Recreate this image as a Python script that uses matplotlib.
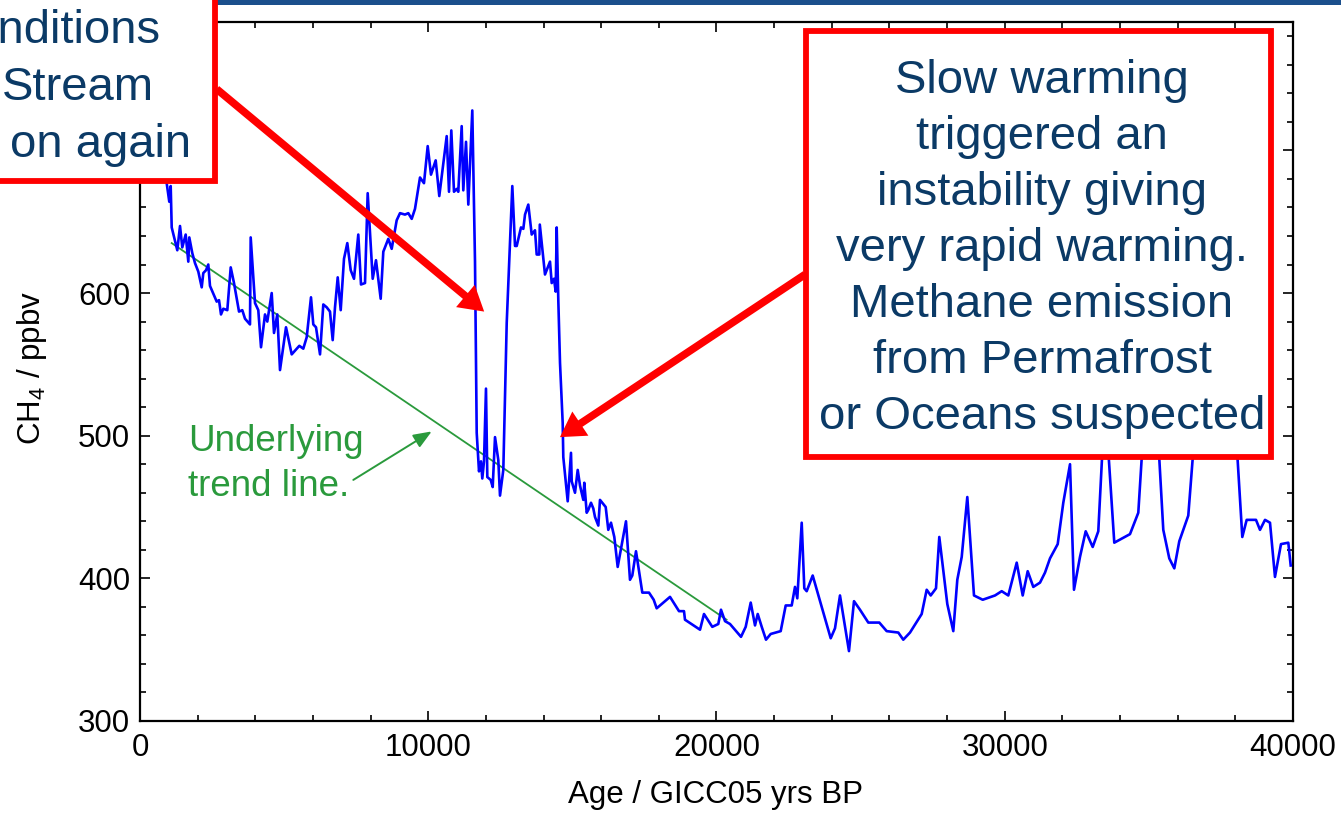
import matplotlib
matplotlib.use("Agg")
import matplotlib.pyplot as plt
from matplotlib.patches import Rectangle
from matplotlib.ticker import MultipleLocator

# ---------------------------
# Data
# ---------------------------
# GICC05 age (yr BP) and CH4 (ppbv)
age = [798, 926, 1016, 1065, 1100, 1294, 1388, 1467, 1585, 1676, 1710, 1814, 1908,
       2023, 2141, 2196, 2290, 2369, 2428, 2661, 2741, 2810, 2890, 3029, 3147, 3261,
       3435, 3549, 3643, 3816, 3840, 3990, 4104, 4198, 4337, 4416, 4569, 4649, 4763,
       4857, 5065, 5263, 5527, 5665, 5783, 5932, 6012, 6106, 6245, 6359, 6477, 6591,
       6685, 6765, 6859, 6963, 7077, 7192, 7310, 7424, 7573, 7667, 7806, 7899, 8073,
       8187, 8350, 8441, 8614, 8732, 8905, 9020, 9193, 9308, 9426, 9540, 9714, 9852,
       9981, 10095, 10258, 10383, 10640, 10720, 10800, 10893, 10987, 11042, 11160,
       11216, 11310, 11390, 11528, 11622, 11681, 11761, 11830, 11875, 11934, 12003,
       12049, 12167, 12236, 12316, 12430, 12489, 12604, 12722, 12916, 13010, 13069,
       13218, 13298, 13357, 13471, 13589, 13703, 13762, 13853, 13870, 14050, 14224,
       14283, 14362, 14421, 14456, 14512, 14571, 14664, 14685, 14838, 14952, 14977,
       15091, 15185, 15265, 15379, 15414, 15497, 15553, 15646, 15726, 15785, 15900,
       15958, 16156, 16246, 16340, 16455, 16572, 16860, 16999, 17079, 17207, 17426,
       17658, 17821, 17925, 18387, 18699, 18872, 18907, 19428, 19566, 19854, 20062,
       20156, 20295, 20468, 20850, 21013, 21187, 21336, 21430, 21569, 21717, 21880,
       22227, 22401, 22609, 22723, 22803, 22956, 23046, 23129, 23337, 23962, 24111,
       24284, 24596, 24770, 24978, 25266, 25648, 25904, 26307, 26480, 26713, 27118,
       27292, 27431, 27615, 27729, 28007, 28215, 28354, 28507, 28701, 28933, 29235,
       29662, 29894, 30123, 30415, 30623, 30796, 30990, 31223, 31396, 31570, 31837,
       32031, 32264, 32402, 32610, 32808, 33051, 33245, 33477, 33800, 34345, 34633,
       35072, 35500, 35708, 35882, 36055, 36367, 36704, 37120, 37537, 37953, 38241,
       38393, 38716, 38855, 39029, 39202, 39375, 39583, 39837, 39920]
ch4 = [700, 677, 664, 675, 646, 630, 647, 632, 641, 622, 639, 628, 621,
       615, 604, 614, 616, 620, 605, 594, 595, 585, 589, 588, 618, 607,
       587, 588, 582, 578, 639, 593, 588, 562, 585, 580, 600, 572, 585,
       546, 576, 557, 563, 561, 569, 597, 578, 576, 557, 592, 590, 587,
       567, 590, 611, 588, 624, 635, 616, 610, 641, 606, 607, 670, 610,
       623, 596, 629, 638, 631, 651, 656, 655, 656, 652, 659, 681, 677,
       703, 683, 693, 668, 710, 671, 714, 671, 673, 671, 717,
       672, 706, 662, 728, 622, 502, 475, 482, 470, 482, 533,
       471, 469, 464, 499, 483, 458, 476, 579, 675, 633, 633,
       646, 645, 655, 662, 641, 644, 627, 627, 648, 613, 622,
       607, 610, 601, 646, 595, 551, 509, 485, 454, 488, 468,
       460, 476, 465, 455, 467, 446, 448, 453, 449, 443, 437,
       455, 450, 434, 439, 429, 408, 440, 399, 402, 419, 390,
       390, 385, 379, 387, 377, 377, 371, 364, 375, 366, 368,
       378, 370, 368, 359, 366, 383, 367, 375, 366, 357, 361,
       363, 381, 381, 394, 386, 439, 393, 391, 402, 358, 365,
       388, 349, 384, 378, 369, 369, 363, 362, 357, 362, 375,
       392, 388, 393, 429, 382, 363, 399, 415, 457, 388, 385,
       388, 391, 388, 411, 388, 405, 394, 397, 404, 414, 424,
       453, 480, 392, 415, 433, 422, 433, 525, 425, 431, 446,
       588, 434, 414, 407, 426, 444, 532, 521, 528, 525, 429,
       441, 441, 434, 441, 439, 401, 424, 425, 409]

# straight trend line drawn through the record
trend_age = [1100, 20350]
trend_ch4 = [635, 371]

x_ticks = [0, 10000, 20000, 30000, 40000]
y_ticks = [300, 400, 500, 600, 700]
y_tick_labels = ["300", "400", "500", "600", ""]  # 700 sits under the left box

right_note = ("Slow warming\ntriggered an\ninstability giving\nvery rapid warming.\n"
              "Methane emission\nfrom Permafrost\nor Oceans suspected")
left_note = ["Conditions", "Stream", "on again"]

# ---------------------------
# Styling
# ---------------------------
plt.rcParams["font.family"] = ["Liberation Sans", "DejaVu Sans"]
plt.rcParams["mathtext.fontset"] = "custom"
plt.rcParams["mathtext.rm"] = "Liberation Sans"
plt.rcParams["mathtext.default"] = "regular"

W, H = 1341, 817
navy = "#0b3a66"
green = "#2a9a3c"


def fx(px):
    return px / W


def fy(py):
    return 1 - py / H


fig = plt.figure(figsize=(W / 100, H / 100), dpi=100)
ax = fig.add_axes([fx(140), fy(721), (1293 - 140) / W, (721 - 22) / H])

ax.plot(age, ch4, color="#0000ff", lw=1.9, zorder=3)
ax.plot(trend_age, trend_ch4, color=green, lw=1.3, zorder=2)

ax.set_xlim(0, 40000)
ax.set_ylim(300, 790)
ax.set_xticks(x_ticks)
ax.set_yticks(y_ticks)
ax.set_yticklabels(y_tick_labels)
ax.xaxis.set_minor_locator(MultipleLocator(2000))
ax.yaxis.set_minor_locator(MultipleLocator(20))
ax.tick_params(which="both", direction="in", top=True, right=True, width=1.2,
               labelsize=22.5)
ax.tick_params(axis="x", which="major", length=7, pad=9)
ax.tick_params(axis="y", which="major", length=7, pad=7)
ax.tick_params(which="minor", length=4.5)
for sp in ax.spines.values():
    sp.set_linewidth(1.6)

ax.set_xlabel("Age / GICC05 yrs BP", fontsize=22.5)
ax.set_ylabel("CH$_4$ / ppbv", fontsize=22.5)
ax.xaxis.label.set_verticalalignment("center")
ax.yaxis.label.set_verticalalignment("center")
ax.xaxis.set_label_coords(0.4987, -0.106)
ax.yaxis.set_label_coords(-0.0937, 0.505)

# green note and arrow to the trend line
ax.text(1665, 480, "Underlying\ntrend line.", color=green, fontsize=26.5,
        va="center", ha="left", linespacing=1.38)
ax.annotate("", xy=(10120, 503), xytext=(7400, 469),
            arrowprops=dict(arrowstyle="-|>,head_length=0.55,head_width=0.22",
                            color=green, lw=1.4, mutation_scale=20,
                            shrinkA=0, shrinkB=0))

# red arrows from the boxes to the transitions
red_arrow = dict(arrowstyle="simple,head_length=0.8,head_width=0.95,tail_width=0.25",
                 color="#ff0000", lw=0, mutation_scale=22, shrinkA=0, shrinkB=0)
ax.annotate("", xy=(11940, 587), xytext=(2660, 743), arrowprops=red_arrow)
ax.annotate("", xy=(14570, 499), xytext=(23070, 613), arrowprops=red_arrow)

# slide header strip at the top
fig.add_artist(Rectangle((0, fy(4.5)), 1, 4.5 / H, transform=fig.transFigure,
                         facecolor="#1b4f8c", edgecolor="none", zorder=5))

# red-framed boxes
fig.add_artist(Rectangle((fx(805.5), fy(457)), (1270.5 - 805.5) / W, (457 - 30.5) / H,
                         transform=fig.transFigure, facecolor="white",
                         edgecolor="#ff0000", lw=4.2, zorder=6))
fig.add_artist(Rectangle((fx(-20), fy(181)), (214.5 + 20) / W, (181 + 20) / H,
                         transform=fig.transFigure, facecolor="white",
                         edgecolor="#ff0000", lw=4.2, zorder=6))

fig.text(fx(1042), fy(249), right_note, color=navy, fontsize=34,
         ha="center", va="center", multialignment="center", linespacing=1.35,
         zorder=7)

for txt, right, base in zip(left_note, [161, 154, 190.7], [43, 100, 157]):
    fig.text(fx(right), fy(base), txt, color=navy, fontsize=34,
             ha="right", va="baseline", zorder=7)

fig.savefig("out.png", dpi=100)
